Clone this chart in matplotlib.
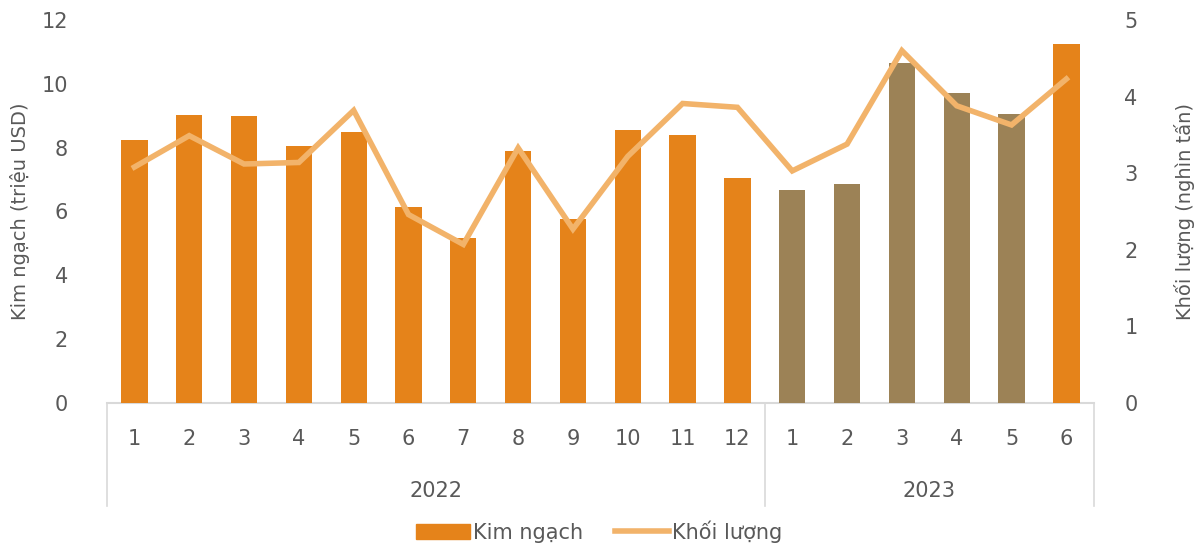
import matplotlib.pyplot as plt
from matplotlib.patches import Patch
from matplotlib.lines import Line2D

months = ['1', '2', '3', '4', '5', '6', '7', '8', '9', '10', '11', '12',
          '1', '2', '3', '4', '5', '6']
years = ['2022', '2023']
year_sizes = [12, 6]

# Kim ngạch (triệu USD)
kim_ngach = [8.24, 9.03, 8.99, 8.06, 8.50, 6.14, 5.17, 7.90, 5.75, 8.56, 8.39, 7.05,
             6.68, 6.87, 10.64, 9.72, 9.06, 11.26]
# Khối lượng (nghìn tấn)
khoi_luong = [3.08, 3.49, 3.12, 3.14, 3.82, 2.46, 2.07, 3.33, 2.27, 3.22, 3.91, 3.86,
              3.03, 3.38, 4.60, 3.88, 3.63, 4.23]

orange = '#E5831A'
brown = '#9C8256'
line_color = '#F2B36A'
text_color = '#595959'
grid_color = '#D9D9D9'

bar_colors = [orange] * 12 + [brown] * 5 + [orange]

plt.rcParams['font.family'] = 'DejaVu Sans'

fig = plt.figure(figsize=(11.98, 5.45), dpi=100)
ax = fig.add_axes([0.0893, 0.2606, 0.8237, 0.7027])
ax2 = ax.twinx()

x = list(range(len(months)))
ax.bar(x, kim_ngach, width=0.48, color=bar_colors, zorder=2)
ax2.plot(x, khoi_luong, color=line_color, lw=4, solid_joinstyle='miter', zorder=3)

ax.set_xlim(-0.5, len(months) - 0.5)
ax.set_ylim(0, 12)
ax.set_yticks(range(0, 13, 2))
ax2.set_ylim(0, 5)
ax2.set_yticks(range(0, 6))

for a in (ax, ax2):
    for s in a.spines.values():
        s.set_visible(False)
    a.tick_params(axis='y', length=0, labelsize=15, labelcolor=text_color, pad=10)
ax.tick_params(axis='y', pad=28)
ax2.tick_params(axis='y', pad=22)
ax.set_xticks([])

ax.set_ylabel('Kim ngạch (triệu USD)', fontsize=14, color=text_color, labelpad=8)
ax2.set_ylabel('Khối lượng (nghìn tấn)', fontsize=14, color=text_color, labelpad=26)

# x axis line and multi-level category labels
ax.axhline(0, color=grid_color, lw=1.5, zorder=1, clip_on=False)
trans = ax.get_xaxis_transform()
for i, m in enumerate(months):
    ax.text(i, -0.095, m, transform=trans, ha='center', va='center',
            fontsize=15, color=text_color)
start = 0
bounds = [-0.5]
for yr, n in zip(years, year_sizes):
    ax.text(start + (n - 1) / 2, -0.23, yr, transform=trans, ha='center',
            va='center', fontsize=15, color=text_color)
    start += n
    bounds.append(start - 0.5)
for b in bounds:
    ax.plot([b, b], [0, -0.27], transform=trans, color=grid_color, lw=1.2,
            clip_on=False)

handles = [Patch(color=orange, label='Kim ngạch'),
           Line2D([0], [0], color=line_color, lw=4, label='Khối lượng')]
fig.legend(handles=handles, loc='center', bbox_to_anchor=(0.5, 0.025), ncol=2,
           frameon=False, fontsize=15, labelcolor=text_color, handlelength=2.6,
           handletextpad=0.15, columnspacing=1.5)

fig.savefig('out.png', dpi=100)
